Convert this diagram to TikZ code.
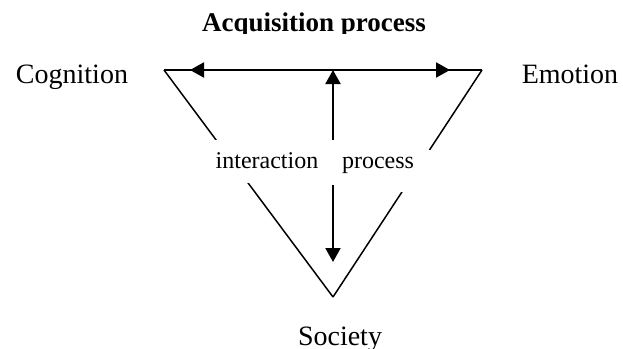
\documentclass[tikz,border=0pt]{standalone}
\usepackage{fontspec}
\setmainfont{Liberation Serif}
\usetikzlibrary{arrows.meta}

\begin{document}
\begin{tikzpicture}[x=0.5pt, y=-0.5pt,
    every node/.style={inner sep=0pt},
    side/.style={line width=0.75pt},
    arrowline/.style={line width=1pt, -{Triangle[length=7pt,width=7.5pt]}},
    twoway/.style={line width=1pt, {Triangle[length=7pt,width=7.5pt]}-{Triangle[length=7pt,width=7.5pt]}},
    corner/.style={font=\fontsize{14}{16}\selectfont, anchor=base},
    gaplabel/.style={font=\fontsize{12}{14}\selectfont, fill=white, anchor=base, inner ysep=6pt}
]
\useasboundingbox (0,0) rectangle (623,349);

% title
\begin{scope}
\clip (0,0) rectangle (623,33);
\node[font=\bfseries\fontsize{13.5}{16}\selectfont, anchor=base] (title) at (314,31.5) {Acquisition process};
\end{scope}

% triangle
\coordinate (tl) at (164,70);
\coordinate (tr) at (482,70);
\coordinate (bt) at (333,297);

\draw[side, line width=1pt] (tl) -- (tr);
\draw[side] (tl) -- (bt);
\draw[side] (tr) -- (bt);

\node[corner] (cognition) at (72,83) {Cognition};
\node[corner] (emotion) at (570,83) {Emotion};
\node[corner] (society) at (340,345) {Society};

% labels on the sides
\node[gaplabel, text height=8pt, text depth=1.5pt, inner xsep=2pt] (interaction) at (267,168) {interaction};
\node[gaplabel, text height=3pt, text depth=6pt, inner xsep=10pt] (process) at (378,168) {process};

% arrows
\coordinate (lefttip) at (190,70);
\coordinate (righttip) at (450,70);
\coordinate (mid) at (333,70);
\coordinate (upfoot) at (333,140);
\coordinate (downtop) at (333,185);
\coordinate (downtip) at (333,262);

\draw[twoway] (lefttip) -- (righttip);
\draw[arrowline] (upfoot) -- (mid);
\draw[arrowline] (downtop) -- (downtip);

\end{tikzpicture}
\end{document}
